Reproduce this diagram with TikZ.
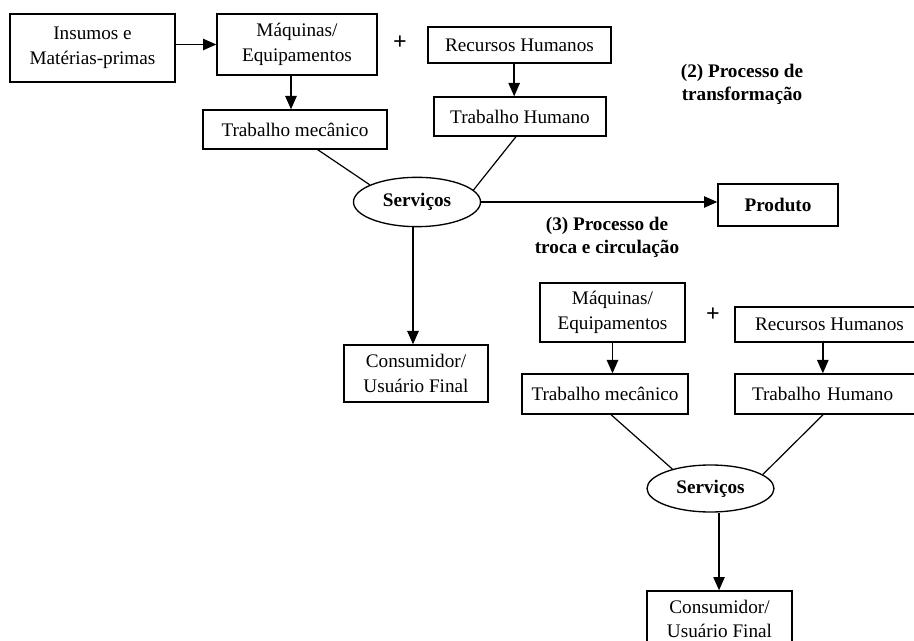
\documentclass[tikz,border=0pt]{standalone}
\usepackage{fontspec}
\setmainfont{Liberation Serif}
\usetikzlibrary{arrows.meta, positioning, shapes.geometric}

\begin{document}
\begin{tikzpicture}[x=0.75pt, y=-0.75pt,
  caixa/.style={draw, line width=1pt, align=center, inner sep=0pt, font=\fontsize{14.4}{18.5}\selectfont},
  elipse/.style={draw, ellipse, line width=1pt, inner sep=0pt, font=\bfseries\fontsize{14.4}{18}\selectfont},
  rotulo/.style={align=center, font=\bfseries\fontsize{14.4}{17.5}\selectfont},
  mais/.style={font=\bfseries\fontsize{18}{18}\selectfont},
  seta/.style={-{Triangle[length=10pt,width=8.5pt]}, line width=1.1pt},
  linha/.style={line width=0.9pt}]
\useasboundingbox (0,0) rectangle (914,641);
% processo de transformacao
\node[caixa, minimum width=123.75pt, minimum height=51pt] (ins) at (92.5,48) {Insumos e\\Matérias-primas};
\node[caixa, minimum width=120pt, minimum height=45.75pt] (maq1) at (297,44.5) {Máquinas/\\Equipamentos};
\node[mais] (mais1) at (400,43) {+};
\node[caixa, minimum width=137.25pt, minimum height=27pt] (rh1) at (519.5,45) {Recursos Humanos};
\node[caixa, minimum width=129pt, minimum height=29.25pt] (th1) at (520,116.5) {Trabalho Humano};
\node[caixa, minimum width=138pt, minimum height=29.25pt] (tm1) at (295,129.5) {Trabalho mecânico};
\node[elipse, minimum width=95.25pt, minimum height=37pt] (serv1) at (417,202) {Serviços};
\node[caixa, minimum width=90pt, minimum height=31.5pt, font=\bfseries\fontsize{14.4}{18}\selectfont] (prod) at (778,205) {Produto};
\node[caixa, minimum width=108pt, minimum height=42.75pt] (cons1) at (416,373.5) {Consumidor/\\Usuário Final};
\node[rotulo] (proc2) at (742,84) {(2) Processo de\\transformação};
\node[rotulo] (proc3) at (607,237) {(3) Processo de\\troca e circulação};

\draw[seta] (ins.east |- maq1.west) -- (maq1.west);
\draw[seta] ([xshift=-4.5pt]maq1.south) -- ([xshift=-4.5pt]maq1.south |- tm1.north);
\draw[seta] ([xshift=-4pt]rh1.south) -- ([xshift=-4pt]rh1.south |- th1.north);
\draw[linha] ([xshift=17pt]tm1.south) -- (serv1.160);
\draw[linha] ([xshift=-3pt]th1.south) -- (serv1.12);
\draw[seta] (serv1.east) -- (serv1.east -| prod.west);
\draw[seta] ([xshift=-3pt]serv1.south) -- ([xshift=-3pt]serv1.south |- cons1.north);

% processo de troca e circulacao
\node[caixa, minimum width=108.75pt, minimum height=44.25pt] (maq2) at (612.5,312.5) {Máquinas/\\Equipamentos};
\node[mais] (mais2) at (713,315) {+};
\node[caixa, minimum width=141.75pt, minimum height=26.25pt] (rh2) at (829.5,324.5) {Recursos Humanos};
\node[caixa, minimum width=124.5pt, minimum height=30pt] (tm2) at (605,394) {Trabalho mecânico};
\node[caixa, minimum width=140.25pt, minimum height=30pt, text width=114.75pt, align=left, inner xsep=12.75pt] (th2) at (828.5,394) {Trabalho Humano};
\node[elipse, minimum width=95.25pt, minimum height=35.25pt] (serv2) at (710.5,488.5) {Serviços};
\node[caixa, minimum width=108.75pt, minimum height=42pt] (cons2) at (719.5,619) {Consumidor/\\Usuário Final};

\draw[seta] (maq2.south) -- (maq2.south |- tm2.north);
\draw[seta] ([xshift=-5pt]rh2.south) -- ([xshift=-5pt]rh2.south |- th2.north);
\draw[linha] ([xshift=4.5pt]tm2.south) -- (serv2.153);
\draw[linha] ([xshift=-4pt]th2.south) -- (serv2.15);
\draw[seta] ([xshift=6.4pt]serv2.south) -- ([xshift=6.4pt]serv2.south |- cons2.north);
\end{tikzpicture}
\end{document}
